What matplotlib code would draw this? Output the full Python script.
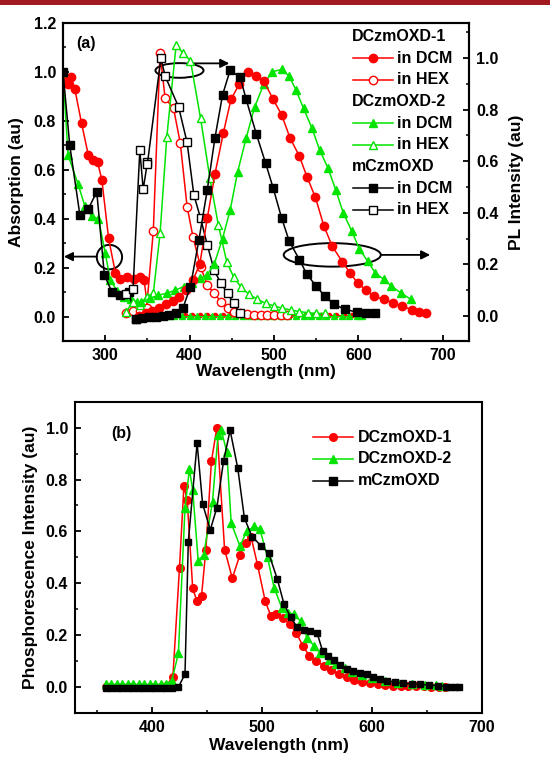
import matplotlib
matplotlib.use('Agg')
import matplotlib.pyplot as plt
from matplotlib.patches import Ellipse, Rectangle
from matplotlib.ticker import MultipleLocator, FormatStrFormatter

plt.rcParams['font.family'] = ['Liberation Sans', 'DejaVu Sans']
plt.rcParams['font.weight'] = 'bold'
plt.rcParams['axes.labelweight'] = 'bold'

RED = '#FF0000'
GREEN = '#00E400'
BLACK = '#000000'

# ================= panel (a) =================
# --- absorption (left axis) ---
d1_dcm_abs_wl = [252, 256, 260, 264, 272, 280, 286, 291, 296, 304, 312, 318, 326, 334, 341, 346, 351]
d1_dcm_abs = [0.97, 0.95, 0.98, 0.93, 0.79, 0.66, 0.64, 0.63, 0.56, 0.32, 0.18, 0.155, 0.16, 0.155, 0.16, 0.15, 0.02]
d1_dcm_abs_tail_wl = [358, 367, 376, 385, 394, 403, 412, 421, 430, 439, 448, 457, 466, 475,
                      484, 493, 502, 511, 520, 529, 538, 547, 556, 565, 574, 583, 592, 600]
d1_dcm_abs_tail = [0.008, 0.008, 0.008, 0.008, 0.008, 0.008, 0.008, 0.008, 0.008, 0.008, 0.008, 0.008, 0.008, 0.008,
                   0.008, 0.008, 0.008, 0.008, 0.008, 0.008, 0.008, 0.008, 0.008, 0.008, 0.008, 0.008, 0.008, 0.008]

d2_dcm_abs_wl = [250, 256, 268, 276, 284, 292, 300, 306, 314, 322, 330, 338, 346]
d2_dcm_abs = [1.0, 0.66, 0.54, 0.45, 0.41, 0.40, 0.26, 0.15, 0.105, 0.08, 0.07, 0.06, 0.02]
d2_dcm_abs_tail_wl = [355, 364, 373, 382, 391, 400, 409, 418, 427, 436, 445, 454, 463, 472, 481,
                      490, 499, 508, 517, 526, 535, 544, 553, 562, 571, 580, 589, 598, 604]
d2_dcm_abs_tail = [0.003, 0.003, 0.003, 0.003, 0.003, 0.003, 0.003, 0.003, 0.003, 0.003, 0.003, 0.003, 0.003, 0.003, 0.003,
                   0.003, 0.003, 0.003, 0.003, 0.003, 0.003, 0.003, 0.003, 0.003, 0.003, 0.003, 0.003, 0.003, 0.003]

m_dcm_abs_wl = [250, 258, 270, 280, 290, 299, 308, 318, 328, 336]
m_dcm_abs = [1.0, 0.70, 0.415, 0.44, 0.51, 0.17, 0.10, 0.09, 0.10, -0.01]

m_hex_abs_wl = [325, 333, 341, 345, 350]
m_hex_abs = [0.093, 0.114, 0.68, 0.52, 0.63]

# --- PL (right axis) ---
d1_dcm_pl_wl = [340, 348, 356, 364, 372, 380, 388, 396, 404, 412, 421, 430, 440, 449, 459, 469, 479, 488,
                499, 509, 519, 530, 539, 549, 559, 569, 581, 590, 599, 609, 618, 630, 641, 652, 664, 672, 680]
d1_dcm_pl = [0.0, 0.01, 0.02, 0.03, 0.045, 0.06, 0.075, 0.10, 0.14, 0.20, 0.38, 0.55, 0.71, 0.84, 0.90, 0.947, 0.93, 0.91,
             0.84, 0.78, 0.69, 0.62, 0.54, 0.46, 0.35, 0.27, 0.21, 0.167, 0.128, 0.10, 0.077, 0.064, 0.051, 0.038, 0.023, 0.015, 0.01]

d2_dcm_pl_wl = [343, 353, 363, 373, 383, 393, 403, 412, 421, 429, 439, 448, 457, 467, 477, 488, 498, 509,
                518, 526, 535, 545, 554, 564, 573, 582, 592, 601, 611, 620, 630, 639, 650, 662]
d2_dcm_pl = [0.056, 0.068, 0.081, 0.088, 0.10, 0.114, 0.127, 0.146, 0.16, 0.20, 0.30, 0.41, 0.56, 0.69, 0.81, 0.90, 0.947, 0.956,
             0.93, 0.876, 0.805, 0.728, 0.644, 0.573, 0.49, 0.40, 0.33, 0.26, 0.212, 0.167, 0.142, 0.116, 0.09, 0.065]

m_dcm_pl_wl = [336, 344, 352, 360, 368, 376, 384, 392, 401, 411, 421, 430, 439, 448, 460, 467, 479, 490,
               499, 509, 518, 530, 539, 550, 560, 571, 584, 598, 609, 620]
m_dcm_pl = [-0.01, -0.008, -0.005, -0.003, 0.0, 0.005, 0.01, 0.03, 0.114, 0.295, 0.49, 0.69, 0.857, 0.953, 0.925, 0.84, 0.706, 0.593,
            0.496, 0.38, 0.29, 0.219, 0.161, 0.116, 0.077, 0.045, 0.026, 0.015, 0.013, 0.01]

d1_hex_pl_wl = [325, 333, 341, 349, 357, 365, 371, 381, 389, 397, 404, 413, 421, 429, 437, 445, 452, 460,
                468, 476, 484, 492, 500, 508, 515]
d1_hex_pl = [0.01, 0.02, 0.02, 0.03, 0.33, 1.02, 0.844, 0.805, 0.669, 0.424, 0.307, 0.19, 0.12, 0.088, 0.056, 0.03, 0.017, 0.01,
             0.006, 0.005, 0.005, 0.005, 0.005, 0.005, 0.005]

d2_hex_pl_wl = [325, 333, 341, 349, 357, 365, 373, 384, 392, 401, 413, 424, 434, 444, 452, 461, 470, 480,
                490, 500, 510, 520, 530, 540, 550, 560]
d2_hex_pl = [0.017, 0.056, 0.043, 0.075, 0.088, 0.32, 0.695, 1.05, 1.02, 0.99, 0.766, 0.534, 0.353, 0.21, 0.152, 0.111, 0.085, 0.065,
             0.049, 0.039, 0.03, 0.023, 0.017, 0.013, 0.01, 0.01]

m_hex_pl_wl = [350, 366, 371, 387, 397, 405, 413, 421, 429, 437, 445, 452, 460]
m_hex_pl = [0.59, 1.0, 0.93, 0.81, 0.673, 0.47, 0.379, 0.275, 0.178, 0.127, 0.088, 0.049, 0.01]

# ================= panel (b) =================
d1_ph_wl = [358, 363, 368, 373, 378, 383, 388, 393, 398, 403, 408, 413, 419, 425, 429, 432, 437, 441, 445, 449,
            454, 459, 466, 473, 480, 485, 490, 496, 503, 508, 513, 519, 525, 531, 537, 543, 549, 556, 563, 570,
            577, 584, 591, 598, 605, 612, 619, 626, 633, 640, 647, 654, 661, 666]
d1_ph = [0, 0, 0, 0, 0, 0, 0, 0, 0, 0, 0, 0.005, 0.04, 0.46, 0.775, 0.72, 0.38, 0.33, 0.35, 0.53,
         0.87, 1.0, 0.53, 0.42, 0.51, 0.555, 0.58, 0.47, 0.33, 0.275, 0.28, 0.265, 0.245, 0.21, 0.16, 0.12, 0.10, 0.083, 0.066, 0.05,
         0.038, 0.028, 0.02, 0.014, 0.01, 0.008, 0.006, 0.005, 0.004, 0.003, 0.003, 0.002, 0.002, 0.002]

d2_ph_wl = [358, 363, 368, 373, 378, 383, 388, 393, 398, 403, 408, 413, 418, 424, 430, 434, 437, 442, 447, 455,
            460, 463, 468, 472, 480, 486, 493, 498, 505, 511, 518, 524, 529, 535, 541, 547, 553, 561, 567, 575,
            582, 591, 600, 612, 624, 636, 648, 658, 664]
d2_ph = [0.01, 0.01, 0.01, 0.01, 0.01, 0.01, 0.01, 0.01, 0.01, 0.01, 0.01, 0.012, 0.025, 0.13, 0.69, 0.84, 0.76, 0.485, 0.51, 0.715,
         0.97, 0.99, 0.906, 0.632, 0.543, 0.60, 0.62, 0.61, 0.50, 0.383, 0.306, 0.287, 0.28, 0.255, 0.19, 0.16, 0.13, 0.105, 0.09, 0.072,
         0.057, 0.045, 0.034, 0.025, 0.017, 0.011, 0.008, 0.007, 0.006]

m_ph_wl = [358, 363, 368, 373, 378, 383, 388, 393, 398, 403, 408, 413, 418, 424, 430, 433, 441, 446, 453, 459,
           465, 471, 478, 484, 491, 499, 506, 514, 520, 526, 532, 538, 544, 550, 555, 560, 565, 571, 577, 583,
           589, 595, 601, 607, 614, 621, 628, 636, 644, 652, 660, 667, 671, 675, 679]
m_ph = [-0.005, -0.005, -0.005, -0.005, -0.005, -0.005, -0.005, -0.005, -0.005, -0.005, -0.005, -0.005, -0.005, 0.0, 0.05, 0.56, 0.94, 0.706, 0.606, 0.692,
        0.87, 0.99, 0.843, 0.651, 0.58, 0.545, 0.517, 0.415, 0.32, 0.27, 0.23, 0.22, 0.215, 0.21, 0.14, 0.12, 0.105, 0.085, 0.07, 0.06,
        0.055, 0.05, 0.04, 0.03, 0.024, 0.019, 0.015, 0.012, 0.01, 0.008, 0.005, 0.002, 0.0, 0.0, 0.0]

LABEL_FS = 12.5
TICK_FS = 11.5


def sty(color, marker, filled, ms, lw=1.1):
    return dict(color=color, lw=lw, marker=marker, ms=ms,
                mfc=color if filled else 'white', mec=color, mew=1.0)


def mk_only(color, marker, filled, ms):
    return dict(linestyle='none', marker=marker, ms=ms,
                mfc=color if filled else 'white', mec=color, mew=1.0)


fig = plt.figure(figsize=(5.5, 7.62), dpi=100)
fig.add_artist(Rectangle((0, 1 - 5 / 762), 1, 5 / 762, transform=fig.transFigure,
                         facecolor='#A01A20', edgecolor='none'))

axa = fig.add_axes([63 / 550, 1 - 341 / 762, 406 / 550, 318 / 762])
axr = axa.twinx()
axb = fig.add_axes([75 / 550, 1 - 713 / 762, 407 / 550, 311.3 / 762])

# absorption
axa.plot(d1_dcm_abs_wl, d1_dcm_abs, **sty(RED, 'o', True, 6))
axa.plot(d1_dcm_abs_tail_wl, d1_dcm_abs_tail, **sty(RED, 'o', True, 3, lw=0.8))
axa.plot(d2_dcm_abs_wl, d2_dcm_abs, **sty(GREEN, '^', True, 6))
axa.plot(d2_dcm_abs_tail_wl, d2_dcm_abs_tail, **sty(GREEN, '^', True, 4.5, lw=0.8))
axa.plot(m_dcm_abs_wl, m_dcm_abs, **sty(BLACK, 's', True, 5.5))
axa.plot(m_hex_abs_wl, m_hex_abs, **sty(BLACK, 's', False, 5.5))

# PL
axr.plot(d1_hex_pl_wl, d1_hex_pl, **sty(RED, 'o', False, 6))
axr.plot(d2_hex_pl_wl, d2_hex_pl, **sty(GREEN, '^', False, 6))
axr.plot(m_hex_pl_wl, m_hex_pl, **sty(BLACK, 's', False, 5.5))
axr.plot(d2_dcm_pl_wl, d2_dcm_pl, **sty(GREEN, '^', True, 6))
axr.plot(d1_dcm_pl_wl, d1_dcm_pl, **sty(RED, 'o', True, 6))
axr.plot(m_dcm_pl_wl, m_dcm_pl, **sty(BLACK, 's', True, 5.5))

axa.set_xlim(250, 731)
axa.set_ylim(-0.1, 1.2)
axr.set_ylim(-0.097, 1.136)
axa.set_xticks([300, 400, 500, 600, 700])
axa.xaxis.set_minor_locator(MultipleLocator(50))
axa.yaxis.set_major_locator(MultipleLocator(0.2))
axa.yaxis.set_minor_locator(MultipleLocator(0.1))
axr.set_yticks([0.0, 0.2, 0.4, 0.6, 0.8, 1.0])
axr.yaxis.set_minor_locator(MultipleLocator(0.1))
axa.yaxis.set_major_formatter(FormatStrFormatter('%.1f'))
axr.yaxis.set_major_formatter(FormatStrFormatter('%.1f'))

# ellipses and arrows
ell_kw = dict(fill=False, edgecolor='black', lw=1.4)
axa.add_patch(Ellipse((305, 0.243), 30, 0.10, **ell_kw))
axa.add_patch(Ellipse((388, 1.006), 57, 0.06, **ell_kw))
axa.add_patch(Ellipse((569, 0.252), 115, 0.096, **ell_kw))
arr = dict(arrowstyle='-|>', color='black', lw=1.3, mutation_scale=13, shrinkA=0, shrinkB=0)
axa.annotate('', xy=(251, 0.245), xytext=(290, 0.245), arrowprops=arr)
axa.annotate('', xy=(447, 1.035), xytext=(398, 1.035), arrowprops=arr)
axa.annotate('', xy=(685, 0.252), xytext=(626.5, 0.252), arrowprops=arr)

axa.text(0.057, 0.936, '(a)', transform=axa.transAxes, ha='center', va='center',
         fontsize=TICK_FS, fontweight='bold')

# legend (a)
leg_rows = [
    ('DCzmOXD-1', None, None, None),
    ('in DCM', RED, 'o', True),
    ('in HEX', RED, 'o', False),
    ('DCzmOXD-2', None, None, None),
    ('in DCM', GREEN, '^', True),
    ('in HEX', GREEN, '^', False),
    ('mCzmOXD', None, None, None),
    ('in DCM', BLACK, 's', True),
    ('in HEX', BLACK, 's', False),
]
y0, dy = 0.957, 0.068
for i, (lab, c, mk, filled) in enumerate(leg_rows):
    yy = y0 - i * dy
    if c is None:
        axr.text(0.712, yy, lab, transform=axr.transAxes, ha='left', va='center',
                 fontsize=TICK_FS, fontweight='bold')
    else:
        axr.plot([0.714, 0.813], [yy, yy], transform=axr.transAxes, color=c, lw=1.1, clip_on=False)
        axr.plot([0.7635], [yy], transform=axr.transAxes, clip_on=False,
                 **mk_only(c, mk, filled, 6 if mk != 's' else 5.5))
        axr.text(0.823, yy, lab, transform=axr.transAxes, ha='left', va='center',
                 fontsize=TICK_FS, fontweight='bold')

axa.set_xlabel('Wavelength (nm)', fontsize=LABEL_FS, fontweight='bold', labelpad=1)
axa.set_ylabel('Absorption (au)', fontsize=LABEL_FS, fontweight='bold')
axr.set_ylabel('PL Intensity (au)', fontsize=LABEL_FS, fontweight='bold')
axa.yaxis.set_label_coords(-0.097, 0.5)
axr.yaxis.set_label_coords(1.098, 0.5)

# ================= panel (b) plot =================
axb.plot(d1_ph_wl, d1_ph, **sty(RED, 'o', True, 5.5))
axb.plot(d2_ph_wl, d2_ph, **sty(GREEN, '^', True, 5.5))
axb.plot(m_ph_wl, m_ph, **sty(BLACK, 's', True, 5))

axb.set_xlim(330, 700)
axb.set_ylim(-0.1, 1.1)
axb.set_xticks([400, 500, 600, 700])
axb.xaxis.set_minor_locator(MultipleLocator(50))
axb.yaxis.set_major_locator(MultipleLocator(0.2))
axb.yaxis.set_minor_locator(MultipleLocator(0.1))
axb.yaxis.set_major_formatter(FormatStrFormatter('%.1f'))
axb.set_xlabel('Wavelength (nm)', fontsize=LABEL_FS, fontweight='bold', labelpad=2)
axb.set_ylabel('Phosphorescence Intensity (au)', fontsize=LABEL_FS, fontweight='bold')
axb.yaxis.set_label_coords(-0.092, 0.5)
axb.text(0.115, 0.898, '(b)', transform=axb.transAxes, ha='center', va='center',
         fontsize=TICK_FS, fontweight='bold')

leg_b = [('DCzmOXD-1', RED, 'o'), ('DCzmOXD-2', GREEN, '^'), ('mCzmOXD', BLACK, 's')]
for i, (lab, c, mk) in enumerate(leg_b):
    yy = 0.886 - i * 0.07
    axb.plot([0.585, 0.683], [yy, yy], transform=axb.transAxes, color=c, lw=1.1, clip_on=False)
    axb.plot([0.634], [yy], transform=axb.transAxes, clip_on=False, **mk_only(c, mk, True, 5.5))
    axb.text(0.695, yy, lab, transform=axb.transAxes, ha='left', va='center',
             fontsize=TICK_FS, fontweight='bold')

# ticks / spines styling
for ax in (axa, axr, axb):
    for s in ax.spines.values():
        s.set_linewidth(1.5)
axa.tick_params(axis='both', which='major', direction='in', length=4, width=1.3, labelsize=TICK_FS, pad=5)
axa.tick_params(axis='both', which='minor', direction='in', length=2.5, width=1.1)
axa.tick_params(axis='y', right=False)
axr.tick_params(axis='y', which='major', direction='in', length=4, width=1.3, labelsize=TICK_FS, pad=5)
axr.tick_params(axis='y', which='minor', direction='in', length=2.5, width=1.1)
axb.tick_params(axis='both', which='major', direction='in', length=4, width=1.3, labelsize=TICK_FS, pad=5)
axb.tick_params(axis='both', which='minor', direction='in', length=2.5, width=1.1)
for ax in (axa, axr, axb):
    for lbl in ax.get_xticklabels() + ax.get_yticklabels():
        lbl.set_fontweight('bold')

fig.savefig('out.png', dpi=100)
